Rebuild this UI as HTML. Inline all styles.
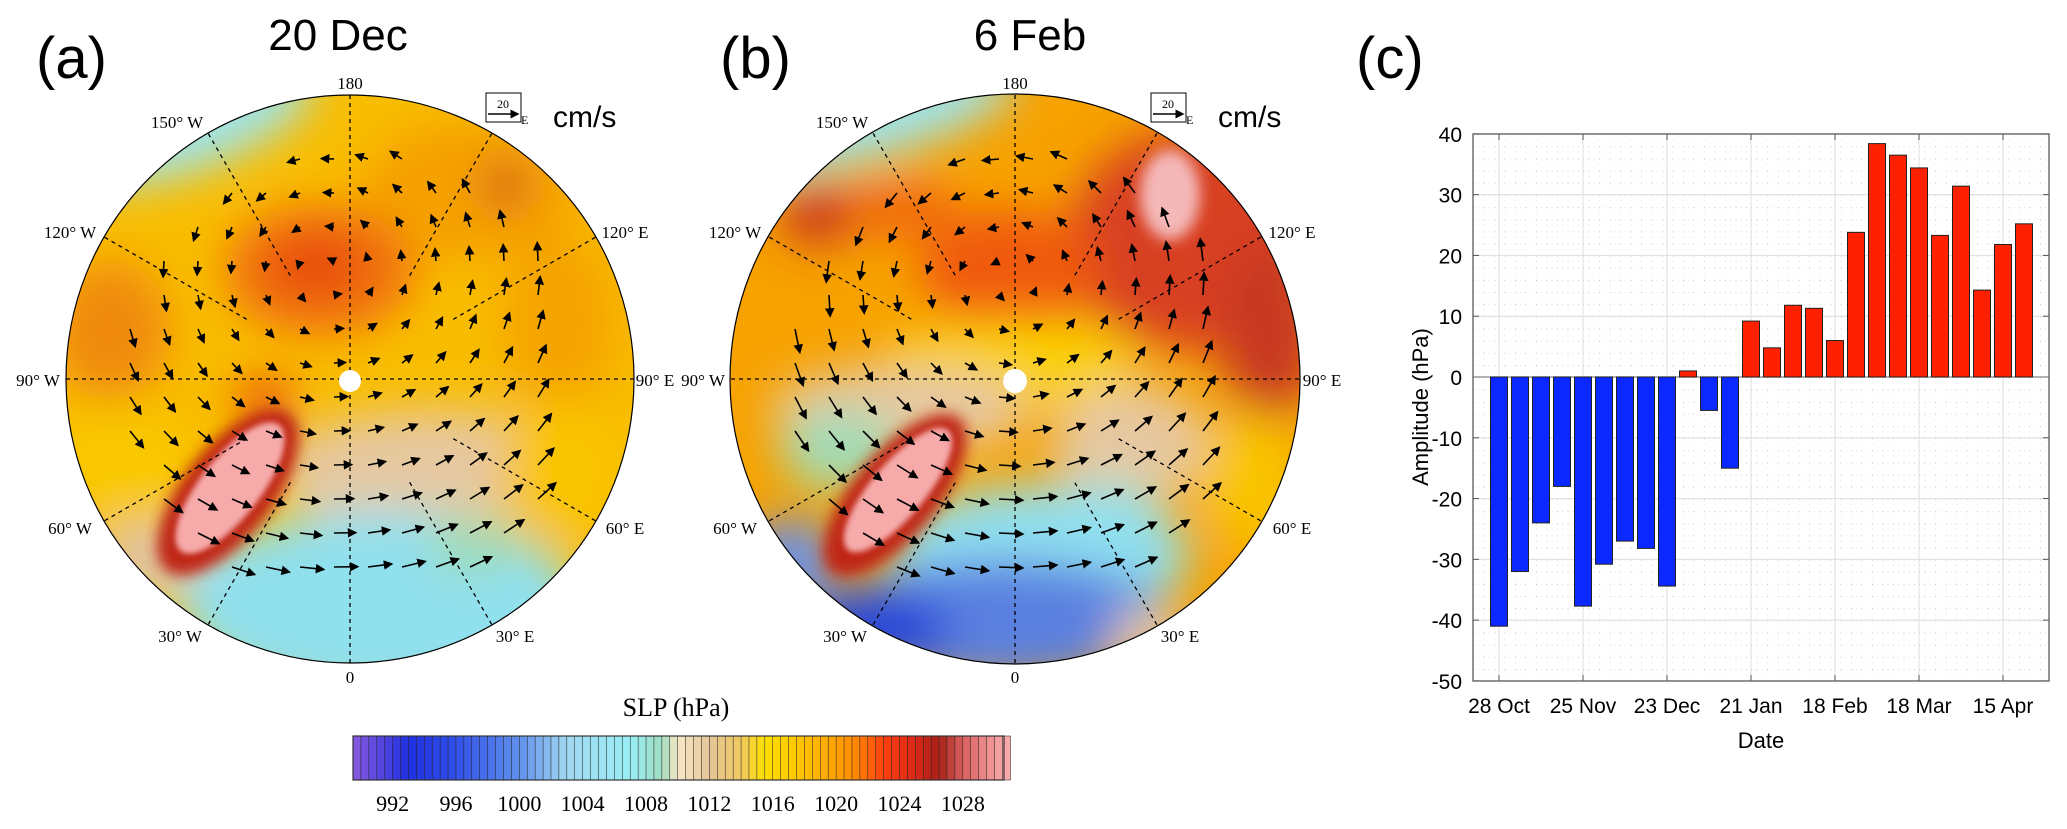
<!DOCTYPE html>
<html><head><meta charset="utf-8"><style>
html,body{margin:0;padding:0;background:#fff}
svg{display:block}
.ser{font-family:"Liberation Serif",serif}
.san{font-family:"Liberation Sans",sans-serif}
</style></head><body>
<svg id="fig" width="2067" height="829" viewBox="0 0 2067 829" xmlns="http://www.w3.org/2000/svg">
<defs>
<filter id="blur" x="-50%" y="-50%" width="200%" height="200%"><feGaussianBlur stdDeviation="22"/></filter>
<filter id="blur2" x="-50%" y="-50%" width="200%" height="200%"><feGaussianBlur stdDeviation="7"/></filter>
<filter id="blur3" x="-50%" y="-50%" width="200%" height="200%"><feGaussianBlur stdDeviation="3"/></filter>
<clipPath id="clipA"><circle cx="350" cy="379" r="284"/></clipPath>
<clipPath id="clipB"><circle cx="1015" cy="379" r="285"/></clipPath>
<pattern id="minor" x="1473" y="134" width="10.5" height="12.16" patternUnits="userSpaceOnUse">
<circle cx="0.5" cy="0.5" r="0.7" fill="#c8c8c8"/><circle cx="5.5" cy="0.5" r="0.5" fill="#d8d8d8"/><circle cx="0.5" cy="6" r="0.5" fill="#d8d8d8"/>
</pattern>
<marker id="ah" markerWidth="6" markerHeight="6" refX="5" refY="3" orient="auto"><path d="M0,0 L6,3 L0,6 z" fill="#000"/></marker>
</defs>

<!-- Panel A -->
<g>
<text x="36" y="78" class="san" font-size="58">(a)</text>
<text x="338" y="50" class="san" font-size="44" text-anchor="middle">20 Dec</text>
<g clip-path="url(#clipA)">
<rect x="60" y="90" width="580" height="580" fill="#f9bd00"/>
<g filter="url(#blur)">
<ellipse cx="470" cy="190" rx="110" ry="70" fill="#f5a000"/>
<ellipse cx="110" cy="330" rx="60" ry="70" fill="#f08a10"/>
<ellipse cx="560" cy="320" rx="60" ry="90" fill="#f5a400"/>
<ellipse cx="320" cy="270" rx="95" ry="65" fill="#f07010"/>
<ellipse cx="315" cy="265" rx="45" ry="30" fill="#e84a10"/>
<ellipse cx="505" cy="185" rx="18" ry="24" fill="#c83020"/>
<ellipse cx="190" cy="125" rx="130" ry="45" fill="#9ee4ec" transform="rotate(-20 190 125)"/>
<ellipse cx="120" cy="470" rx="70" ry="60" fill="#f9c800"/>
<ellipse cx="430" cy="470" rx="160" ry="60" fill="#e6c8a0"/>
<ellipse cx="160" cy="560" rx="70" ry="40" fill="#e0c4a0"/>
<ellipse cx="380" cy="605" rx="200" ry="95" fill="#90e0ee"/>
<ellipse cx="470" cy="545" rx="40" ry="30" fill="#a0dcb4"/>
<ellipse cx="265" cy="400" rx="30" ry="20" fill="#e84010"/>
<ellipse cx="560" cy="470" rx="60" ry="70" fill="#f9c400"/>
</g>
<g filter="url(#blur2)">
<ellipse cx="228" cy="492" rx="100" ry="45" fill="#c02818" transform="rotate(-52 228 492)"/>
</g>
<ellipse cx="230" cy="488" rx="80" ry="30" fill="#f6aaaa" filter="url(#blur3)" transform="rotate(-52 230 488)"/>
<g id="gridA" stroke="#000" stroke-width="1.3" stroke-dasharray="4 4" fill="none"></g>
<g id="arrowsA" stroke="#000" stroke-width="2" fill="none"></g>
</g>
<circle cx="350" cy="379" r="284" fill="none" stroke="#000" stroke-width="1.2"/>
<circle cx="350" cy="381" r="11" fill="#fff"/>
<g class="ser" font-size="17" fill="#000">
<text x="350" y="89" text-anchor="middle">180</text>
<text x="177" y="128" text-anchor="middle">150° W</text>
<text x="70" y="238" text-anchor="middle">120° W</text>
<text x="38" y="386" text-anchor="middle">90° W</text>
<text x="70" y="534" text-anchor="middle">60° W</text>
<text x="180" y="642" text-anchor="middle">30° W</text>
<text x="350" y="683" text-anchor="middle">0</text>
<text x="515" y="642" text-anchor="middle">30° E</text>
<text x="625" y="238" text-anchor="middle">120° E</text>
<text x="655" y="386" text-anchor="middle">90° E</text>
<text x="625" y="534" text-anchor="middle">60° E</text>
</g>
<g>
<rect x="486" y="93" width="35" height="29" fill="#fff" stroke="#000" stroke-width="1"/>
<text x="503" y="108" class="ser" font-size="12" text-anchor="middle">20</text>
<line x1="488" y1="114" x2="518" y2="114" stroke="#000" stroke-width="1.5" marker-end="url(#ah)"/>
<text x="521" y="124" class="ser" font-size="12">E</text>
<text x="553" y="127" class="san" font-size="30">cm/s</text>
</g>
</g>

<!-- Panel B -->
<g>
<text x="720" y="78" class="san" font-size="58">(b)</text>
<text x="1030" y="50" class="san" font-size="44" text-anchor="middle">6 Feb</text>
<g clip-path="url(#clipB)">
<rect x="725" y="90" width="580" height="580" fill="#f7a200"/>
<g filter="url(#blur)">
<ellipse cx="1190" cy="240" rx="120" ry="110" fill="#d84020"/>
<ellipse cx="1270" cy="330" rx="50" ry="90" fill="#c83820"/>
<ellipse cx="820" cy="215" rx="40" ry="30" fill="#c83020"/>
<ellipse cx="900" cy="210" rx="60" ry="30" fill="#f06a10"/>
<ellipse cx="1010" cy="270" rx="90" ry="60" fill="#f05a10"/>
<ellipse cx="870" cy="118" rx="150" ry="40" fill="#9ee4ec" transform="rotate(-15 870 118)"/>
<ellipse cx="1010" cy="365" rx="130" ry="45" fill="#fbd000"/>
<ellipse cx="900" cy="410" rx="130" ry="45" fill="#e6c8a0"/>
<ellipse cx="1130" cy="445" rx="80" ry="60" fill="#e6c8a0"/>
<ellipse cx="1250" cy="480" rx="50" ry="70" fill="#f9c400"/>
<ellipse cx="1110" cy="510" rx="50" ry="30" fill="#a0dcb8"/>
<ellipse cx="840" cy="450" rx="60" ry="40" fill="#a0dcb8"/>
<ellipse cx="1040" cy="555" rx="150" ry="70" fill="#90e0f0"/>
<ellipse cx="1000" cy="620" rx="170" ry="60" fill="#5a80e0"/>
<ellipse cx="870" cy="630" rx="80" ry="40" fill="#2846d8"/>
<ellipse cx="790" cy="560" rx="50" ry="40" fill="#6a90e8"/>
<ellipse cx="1150" cy="640" rx="40" ry="30" fill="#e6c8a0"/>
</g>
<g filter="url(#blur2)">
<ellipse cx="895" cy="495" rx="100" ry="42" fill="#c02818" transform="rotate(-50 895 495)"/>
</g>
<ellipse cx="898" cy="490" rx="78" ry="27" fill="#f6aaaa" filter="url(#blur3)" transform="rotate(-50 898 490)"/>
<ellipse cx="1170" cy="195" rx="30" ry="45" fill="#f4b8b8" filter="url(#blur2)"/>
<g id="gridB" stroke="#000" stroke-width="1.3" stroke-dasharray="4 4" fill="none"></g>
<g id="arrowsB" stroke="#000" stroke-width="2" fill="none"></g>
</g>
<circle cx="1015" cy="379" r="285" fill="none" stroke="#000" stroke-width="1.2"/>
<circle cx="1015" cy="381" r="12" fill="#fff"/>
<g class="ser" font-size="17" fill="#000">
<text x="1015" y="89" text-anchor="middle">180</text>
<text x="842" y="128" text-anchor="middle">150° W</text>
<text x="735" y="238" text-anchor="middle">120° W</text>
<text x="703" y="386" text-anchor="middle">90° W</text>
<text x="735" y="534" text-anchor="middle">60° W</text>
<text x="845" y="642" text-anchor="middle">30° W</text>
<text x="1015" y="683" text-anchor="middle">0</text>
<text x="1180" y="642" text-anchor="middle">30° E</text>
<text x="1292" y="238" text-anchor="middle">120° E</text>
<text x="1322" y="386" text-anchor="middle">90° E</text>
<text x="1292" y="534" text-anchor="middle">60° E</text>
</g>
<g>
<rect x="1151" y="93" width="35" height="29" fill="#fff" stroke="#000" stroke-width="1"/>
<text x="1168" y="108" class="ser" font-size="12" text-anchor="middle">20</text>
<line x1="1153" y1="114" x2="1183" y2="114" stroke="#000" stroke-width="1.5" marker-end="url(#ah)"/>
<text x="1186" y="124" class="ser" font-size="12">E</text>
<text x="1218" y="127" class="san" font-size="30">cm/s</text>
</g>
</g>

<!-- Colorbar -->
<g>
<text x="676" y="716" class="ser" font-size="26" text-anchor="middle">SLP (hPa)</text>
<g id="cbar"></g>
<rect x="353" y="736" width="651" height="44" fill="none" stroke="#333" stroke-width="1.2"/>
<g id="cbticks" class="ser" font-size="22" text-anchor="middle"></g>
</g>

<!-- Panel C -->
<g>
<text x="1356" y="78" class="san" font-size="58">(c)</text>
<rect x="1473" y="134" width="576" height="547" fill="url(#minor)"/>
<g id="cgrid"></g>
<g id="bars"></g>
<rect x="1473" y="134" width="576" height="547" fill="none" stroke="#666" stroke-width="1.4"/>
<g id="yticks" class="san" font-size="21" text-anchor="end"></g>
<g id="xticks" class="san" font-size="21" text-anchor="middle"></g>
<text transform="translate(1428 407) rotate(-90)" class="san" font-size="22" text-anchor="middle">Amplitude (hPa)</text>
<text x="1761" y="748" class="san" font-size="22" text-anchor="middle">Date</text>
</g>
</svg>
<script>
const NS='http://www.w3.org/2000/svg';
const amplitudes=[-41,-32,-24,-18,-37.7,-30.8,-27,-28.2,-34.4,1,-5.5,-15,9.2,4.8,11.8,11.3,6,23.8,38.4,36.5,34.4,23.3,31.4,14.3,21.8,25.2];
const weekIndex=[0,1,2,3,4,5,6,7,8,9,10,11,12,13,14,15,16,17,18,19,20,21,22,23,24,25];
const yTickValues=[40,30,20,10,0,-10,-20,-30,-40,-50];
const xTickLabels=['28 Oct','25 Nov','23 Dec','21 Jan','18 Feb','18 Mar','15 Apr'];
const xTickWeeks=[0,4,8,12,16,20,24];
const cbTickLabels=[992,996,1000,1004,1008,1012,1016,1020,1024,1028];

function mk(tag,attrs,parent){const e=document.createElementNS(NS,tag);for(const k in attrs)e.setAttribute(k,attrs[k]);parent.appendChild(e);return e;}
const yScale=v=>377+(0-v)*6.078;
const xScale=w=>1499+w*21;

const cgrid=document.getElementById('cgrid');
yTickValues.forEach(v=>{
  const l=mk('line',{x1:1473,x2:2049,y1:yScale(v),y2:yScale(v),stroke:'#e2e2e2','stroke-width':1.2},cgrid);
  
  
  mk('line',{x1:1473,x2:1479,y1:yScale(v),y2:yScale(v),stroke:'#555'},cgrid);
  mk('line',{x1:2043,x2:2049,y1:yScale(v),y2:yScale(v),stroke:'#555'},cgrid);
  const t=mk('text',{x:1462,y:yScale(v)+8},document.getElementById('yticks'));
  t.textContent=v;
  
  
});
xTickWeeks.forEach((w,i)=>{
  const l=mk('line',{x1:xScale(w),x2:xScale(w),y1:134,y2:681,stroke:'#e2e2e2','stroke-width':1.2},cgrid);
  
  
  mk('line',{x1:xScale(w),x2:xScale(w),y1:675,y2:681,stroke:'#555'},cgrid);
  mk('line',{x1:xScale(w),x2:xScale(w),y1:134,y2:140,stroke:'#555'},cgrid);
  const t=mk('text',{x:xScale(w),y:713},document.getElementById('xticks'));
  t.textContent=xTickLabels[i];
  
  
});
mk('line',{x1:1473,x2:2049,y1:yScale(0),y2:yScale(0),stroke:'#888','stroke-width':1.2},cgrid);
const bars=document.getElementById('bars');
amplitudes.forEach((v,i)=>{
  const x=xScale(weekIndex[i])-8.5;
  const y0=yScale(Math.max(v,0)),y1=yScale(Math.min(v,0));
  const r=mk('rect',{x:x,y:y0,width:17,height:Math.max(y1-y0,1),fill:v>=0?'#ff2000':'#0a28ff',stroke:'#222','stroke-width':1},bars);
  
  
});

// colorbar
const cbStops=[[989.5,'#8a5ae0'],[993,'#2030e0'],[996,'#3050e8'],[1000,'#6090ec'],[1003,'#a0d8f0'],[1007,'#98eef4'],[1009,'#a0dcc0'],[1010,'#f6e8c4'],[1012,'#e6c498'],[1014,'#f0c860'],[1015.5,'#fde000'],[1018,'#fdc000'],[1021,'#ff9000'],[1023,'#ff4010'],[1025,'#d82818'],[1026.5,'#a82018'],[1028,'#d86060'],[1030.6,'#f8aaaa']];
function hex(c){return [1,3,5].map(i=>parseInt(c.substr(i,2),16));}
function col(v){for(let i=0;i<cbStops.length-1;i++){const a=cbStops[i],b=cbStops[i+1];if(v<=b[0]){const t=Math.max(0,(v-a[0])/(b[0]-a[0]));const A=hex(a[1]),B=hex(b[1]);return 'rgb('+A.map((x,j)=>Math.round(x+(B[j]-x)*t)).join(',')+')';}}return cbStops[cbStops.length-1][1];}
const cbX=v=>353+(v-989.5)/(1030.6-989.5)*651;
const cbar=document.getElementById('cbar');
for(let v=989.5;v<1030.6;v+=0.5){
  mk('rect',{x:cbX(v),y:736,width:cbX(v+0.5)-cbX(v)+0.2,height:44,fill:col(v+0.25),stroke:'#222','stroke-width':0.5},cbar);
}
cbTickLabels.forEach(v=>{
  const t=mk('text',{x:cbX(v),y:811},document.getElementById('cbticks'));
  t.textContent=v;
  
  
});

// map grids and decorative arrows
function grid(id,cx,cy,r){
  const g=document.getElementById(id);
  for(let k=0;k<12;k++){
    const a=k*Math.PI/6;const full=(k%3===0);const r0=full?0:r*0.42;
    mk('line',{x1:cx+r0*Math.sin(a),y1:cy+r0*Math.cos(a),x2:cx+r*Math.sin(a),y2:cy+r*Math.cos(a)},g);
  }
}
grid('gridA',350,379,284);grid('gridB',1015,379,285);
function arrows(id,cx,cy,hx,hy,s){
  const g=document.getElementById(id);
  for(let y=cy-220;y<=cy+220;y+=34){for(let x=cx-220;x<=cx+220;x+=34){
    const dx=x-cx,dy=y-cy;if(dx*dx+dy*dy>230*230)continue;
    const vx=(y-hy),vy=-(x-hx);const m=Math.hypot(vx,vy)||1;
    const L=Math.min(6+m*0.06*s,24);
    mk('line',{x1:x,y1:y,x2:x+vx/m*L,y2:y+vy/m*L,'marker-end':'url(#ah)','stroke-width':1.6},g);
  }}
}
arrows('arrowsA',350,379,330,270,1);
arrows('arrowsB',1015,379,1010,285,1.4);
</script>
</body></html>
